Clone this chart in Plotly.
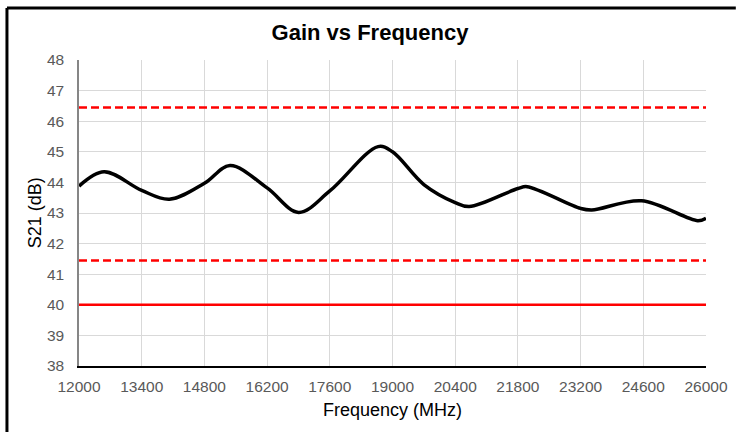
import plotly.graph_objects as go

# Data
freq_mhz = [12000, 12561, 13400, 14019, 14800, 15372, 16200, 16904, 17600,
            18679, 19000, 19700, 20400, 20713, 21800, 22006, 23200, 23449,
            24560, 25816, 26000]
s21_db = [43.88, 44.35, 43.74, 43.45, 43.97, 44.55, 43.82, 43.02, 43.72,
          45.17, 45.00, 43.93, 43.34, 43.21, 43.80, 43.86, 43.15, 43.10,
          43.40, 42.75, 42.83]

limit_upper_dashed = 46.45
limit_lower_dashed = 41.45
limit_min_solid = 40.0

x_range = [12000, 26000]
x_tick_step = 1400
y_range = [38, 48]

fig = go.Figure()

fig.add_trace(go.Scatter(
    x=x_range, y=[limit_upper_dashed] * 2, mode="lines",
    line=dict(color="#ff0000", width=2.5, dash="8px,4px"),
    hoverinfo="skip", showlegend=False))
fig.add_trace(go.Scatter(
    x=x_range, y=[limit_lower_dashed] * 2, mode="lines",
    line=dict(color="#ff0000", width=2.5, dash="8px,4px"),
    hoverinfo="skip", showlegend=False))
fig.add_trace(go.Scatter(
    x=x_range, y=[limit_min_solid] * 2, mode="lines",
    line=dict(color="#ff0000", width=2.5),
    hoverinfo="skip", showlegend=False))
fig.add_trace(go.Scatter(
    x=freq_mhz, y=s21_db, mode="lines",
    line=dict(color="#000000", width=3.5, shape="spline", smoothing=1.0),
    showlegend=False))

FONT = "Liberation Sans, Arial, sans-serif"
tick_font = dict(family=FONT, size=15.5, color="#595959")

W, H = 740, 432
ML, MR, MT, MB = 79, 30, 60, 66
PW, PH = W - ML - MR, H - MT - MB

fig.update_layout(
    width=W, height=H,
    margin=dict(l=ML, r=MR, t=MT, b=MB),
    paper_bgcolor="white", plot_bgcolor="white",
    title=dict(text="<b>Gain vs Frequency</b>", x=0.5, xref="container", xanchor="center",
               y=1 - 32 / H, yref="container", yanchor="middle",
               font=dict(family=FONT, size=22, color="#000000")),
    showlegend=False,
)

fig.update_xaxes(
    range=x_range, tick0=x_range[0], dtick=x_tick_step, tickmode="linear",
    tickformat="d", exponentformat="none",
    showgrid=True, gridcolor="#d9d9d9", gridwidth=1,
    showline=True, linecolor="#000000", linewidth=1.5,
    ticks="", tickfont=tick_font, ticklabelstandoff=6,
    zeroline=False, fixedrange=True,
)
fig.update_yaxes(
    range=y_range, dtick=1, tickmode="linear", tickformat="d",
    showgrid=True, gridcolor="#d9d9d9", gridwidth=1,
    showline=True, linecolor="#868686", linewidth=1.5,
    ticks="", tickfont=tick_font, ticklabelstandoff=10,
    zeroline=False, fixedrange=True,
)

# axis titles
fig.add_annotation(text="Frequency (MHz)", x=0.5, xref="paper", y=-44 / PH, yref="paper",
                   xanchor="center", yanchor="middle", showarrow=False,
                   font=dict(family=FONT, size=18, color="#000000"))
fig.add_annotation(text="S21 (dB)", x=(35 - ML) / PW, xref="paper", y=0.5, yref="paper",
                   xanchor="center", yanchor="middle", showarrow=False, textangle=-90,
                   font=dict(family=FONT, size=18, color="#000000"))

# outer chart border: only top and left edges are visible in the reference
bx0 = (6.5 - ML) / PW
by1 = 1 + (MT - 8) / PH
fig.add_shape(type="line", xref="paper", yref="paper",
              x0=bx0, x1=(W - ML) / PW, y0=by1, y1=by1,
              line=dict(color="#000000", width=3))
fig.add_shape(type="line", xref="paper", yref="paper",
              x0=bx0, x1=bx0, y0=by1, y1=-(MB) / PH,
              line=dict(color="#000000", width=3))

fig.write_html("out.html", config={"displayModeBar": False},
               post_script="document.body.style.margin='0';")
